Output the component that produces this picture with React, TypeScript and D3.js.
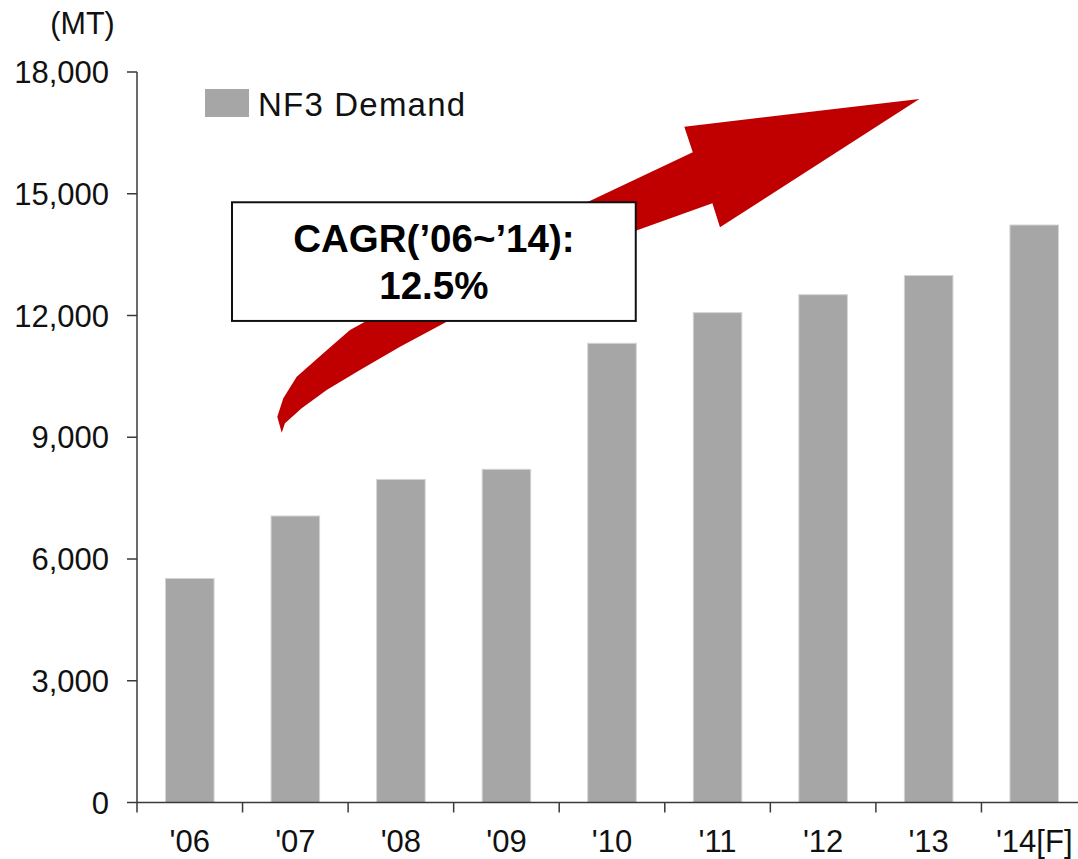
import React from "react";
import * as d3 from "d3";

const categories = ["'06", "'07", "'08", "'09", "'10", "'11", "'12", "'13", "'14[F]"];
const demand = [5520, 7060, 7960, 8210, 11315, 12070, 12513, 12986, 14230];
const yTicks = [0, 3000, 6000, 9000, 12000, 15000, 18000];
const seriesName = "NF3 Demand";
const unitLabel = "(MT)";
const cagrLines = ["CAGR(\u201906~\u201914):", "12.5%"];
// arrow outline in data units: [category index offset, value]
const arrowOutline: [number, number][] = [
  [0.871, 9112], [0.829, 9507], [0.886, 9960], [1.013, 10492], [1.265, 11069],
  [1.518, 11643], [1.66, 11847], [3.744, 14765], [4.765, 16022], [4.685, 16652],
  [6.912, 17335], [5.023, 14174], [4.951, 14765], [4.218, 14082], [2.434, 11847],
  [1.992, 11231], [1.613, 10657], [1.297, 10164], [1.06, 9713], [0.902, 9344],
];
// label box in data units: [index left, value top, index right, value bottom]
const boxCorners = { i0: 0.4, v0: 14790, i1: 4.225, v1: 11866 };

const W = 1078;
const H = 859;
const FONT = "'Liberation Sans', Arial, Helvetica, sans-serif";

export default function App() {
  const x = d3.scaleBand<string>().domain(categories).range([137, 1087]).paddingInner(0.54).paddingOuter(0.27);
  const y = d3.scaleLinear().domain([0, 18000]).range([802.5, 72]);
  const step = x.step();
  const c0 = (x(categories[0]) as number) + x.bandwidth() / 2;
  const xi = (i: number) => c0 + i * step;
  const fmt = d3.format(",");
  const arrowPath = d3.line<[number, number]>().x((d) => xi(d[0])).y((d) => y(d[1]))(arrowOutline) + "Z";
  const bx0 = xi(boxCorners.i0), bx1 = xi(boxCorners.i1);
  const by0 = y(boxCorners.v0), by1 = y(boxCorners.v1);
  const axisColor = "#3a3a3a";
  return (
    <svg width={W} height={H} style={{ position: "absolute", left: 0, top: 0, background: "#fff" }} fontFamily={FONT}>
      <rect x={0} y={0} width={W} height={H} fill="#fff" />
      {/* bars */}
      {categories.map((c, i) => (
        <rect key={c} x={x(c)} y={y(demand[i])} width={x.bandwidth()} height={y(0) - y(demand[i])}
          fill="#a6a6a6" stroke="#d4d4d4" strokeWidth={1} />
      ))}
      {/* y axis */}
      <line x1={137} x2={137} y1={y(18000)} y2={y(0)} stroke={axisColor} strokeWidth={1.5} />
      {yTicks.map((t) => (
        <g key={t}>
          <line x1={127} x2={137} y1={y(t)} y2={y(t)} stroke={axisColor} strokeWidth={1.5} />
          <text x={109} y={y(t)} dy="0.36em" textAnchor="end" fontSize={31} fill="#111">{fmt(t)}</text>
        </g>
      ))}
      <text x={82.5} y={34} textAnchor="middle" fontSize={30.5} fill="#111">{unitLabel}</text>
      {/* x axis */}
      <line x1={137} x2={W} y1={y(0)} y2={y(0)} stroke={axisColor} strokeWidth={1.5} />
      {categories.map((c, i) => (
        <g key={c}>
          <line x1={xi(i) - step / 2} x2={xi(i) - step / 2} y1={y(0)} y2={y(0) + 10} stroke={axisColor} strokeWidth={1.5} />
          <text x={xi(i)} y={852} textAnchor="middle" fontSize={31} fill="#111">{c}</text>
        </g>
      ))}
      {/* legend */}
      <rect x={205} y={89} width={44} height={28} fill="#a6a6a6" />
      <text x={258} y={115.5} fontSize={33} letterSpacing={1.2} fill="#111">{seriesName}</text>
      {/* arrow */}
      <path d={arrowPath} fill="#c00000" />
      {/* CAGR box */}
      <rect x={bx0} y={by0} width={bx1 - bx0} height={by1 - by0} fill="#fff" stroke="#111" strokeWidth={2} />
      <text x={(bx0 + bx1) / 2} y={251.5} textAnchor="middle" fontSize={38.5} fontWeight="bold" fill="#000">{cagrLines[0]}</text>
      <text x={(bx0 + bx1) / 2} y={299} textAnchor="middle" fontSize={38.5} fontWeight="bold" fill="#000">{cagrLines[1]}</text>
    </svg>
  );
}
